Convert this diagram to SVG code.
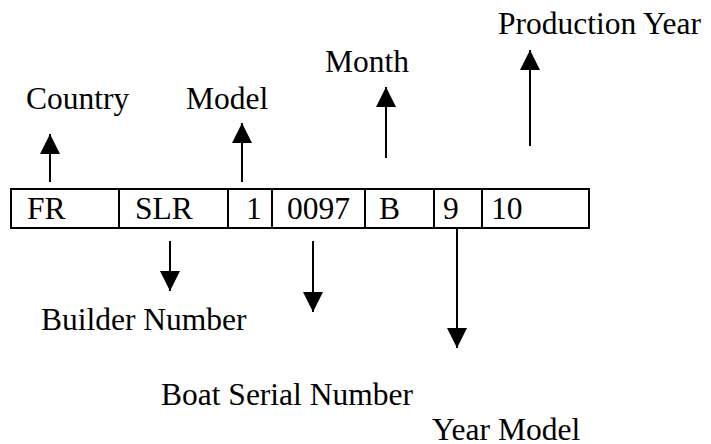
<svg xmlns="http://www.w3.org/2000/svg" width="711" height="444" viewBox="0 0 711 444">
  <style>
    text { font-family: "Liberation Serif", Tinos, "Times New Roman", "DejaVu Serif", serif; font-size: 31.5px; fill: #000; }
    .box { fill: #fff; stroke: #000; stroke-width: 2; }
    .div { stroke: #000; stroke-width: 2; }
    .conn { stroke: #000; stroke-width: 2; fill: none; marker-end: url(#head); }
  </style>
  <defs>
    <marker id="head" viewBox="0 0 20 20" refX="20" refY="10" markerWidth="20" markerHeight="20" markerUnits="userSpaceOnUse" orient="auto">
      <path d="M0,0 L20,10 L0,20 z" fill="#000"/>
    </marker>
  </defs>
  <rect width="711" height="444" fill="#fff"/>

  <g id="code-box">
    <rect class="box" x="11" y="189" width="578" height="39"/>
    <line class="div" x1="119" y1="189" x2="119" y2="228"/>
    <line class="div" x1="228" y1="189" x2="228" y2="228"/>
    <line class="div" x1="272" y1="189" x2="272" y2="228"/>
    <line class="div" x1="365" y1="189" x2="365" y2="228"/>
    <line class="div" x1="434" y1="189" x2="434" y2="228"/>
    <line class="div" x1="482" y1="189" x2="482" y2="228"/>
  </g>
  <g id="cell-fr"><text x="27" y="219">FR</text></g>
  <g id="cell-slr"><text x="135" y="219">SLR</text></g>
  <g id="cell-1"><text x="246" y="219">1</text></g>
  <g id="cell-0097"><text x="287" y="219">0097</text></g>
  <g id="cell-b"><text x="379" y="219">B</text></g>
  <g id="cell-9"><text x="443" y="219">9</text></g>
  <g id="cell-10"><text x="491" y="219">10</text></g>

  <g id="label-country"><text x="26" y="109">Country</text></g>
  <g id="label-model"><text x="186" y="109">Model</text></g>
  <g id="label-month"><text x="325" y="72">Month</text></g>
  <g id="label-production-year"><text x="498" y="34">Production Year</text></g>
  <g id="label-builder-number"><text x="41" y="330">Builder Number</text></g>
  <g id="label-boat-serial-number"><text x="161" y="405">Boat Serial Number</text></g>
  <g id="label-year-model"><text x="432" y="440">Year Model</text></g>

  <g id="connectors">
    <line class="conn" x1="50" y1="182" x2="50" y2="134"/>
    <line class="conn" x1="242" y1="182" x2="242" y2="123"/>
    <line class="conn" x1="386" y1="158" x2="386" y2="87"/>
    <line class="conn" x1="530" y1="146" x2="530" y2="50"/>
    <line class="conn" x1="170" y1="241" x2="170" y2="291"/>
    <line class="conn" x1="313" y1="241" x2="313" y2="312"/>
    <line class="conn" x1="457" y1="228" x2="457" y2="348"/>
  </g>
</svg>
